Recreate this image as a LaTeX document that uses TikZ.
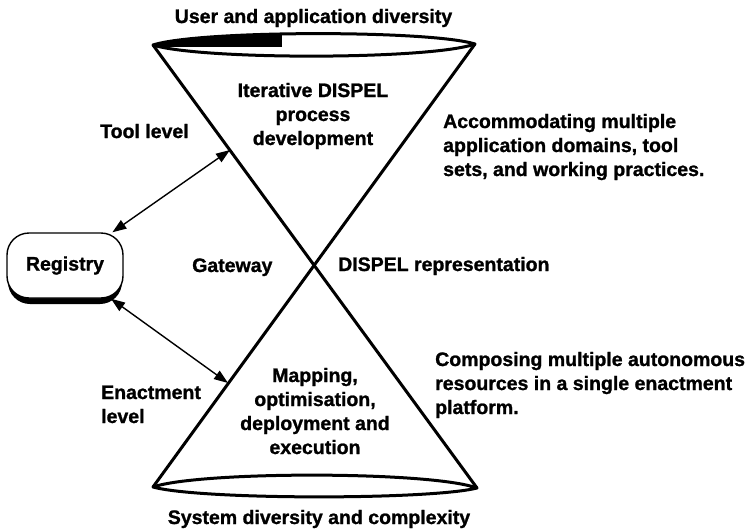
\documentclass[tikz,border=0pt]{standalone}
\usepackage{fontspec}
\setmainfont[BoldFeatures={FakeBold=1.2}]{Liberation Sans}
\usetikzlibrary{arrows.meta}
\begin{document}
\begin{tikzpicture}[x=1pt,y=-1pt,
  lbl/.style={font=\fontsize{19.5}{24}\selectfont\bfseries, inner sep=0pt, anchor=base},
  lblw/.style={lbl, anchor=base west, align=left},
  cone/.style={line width=3pt, line join=round, line cap=round},
  link/.style={line width=1.4pt,
    {Triangle[length=14pt,width=10pt]}-{Triangle[length=14pt,width=10pt]}},
  regbox/.style={draw, line width=1.4pt, rounded corners=22pt, fill=white,
    minimum width=116pt, minimum height=65pt, inner sep=0pt,
    font=\fontsize{19.5}{24}\selectfont\bfseries}]
\useasboundingbox (0,0) rectangle (755,530);

% tips of the two lens-shaped rims
\coordinate (tl) at (153,45);
\coordinate (tr) at (475,44);
\coordinate (bl) at (153,487);
\coordinate (br) at (477,488);

% shaded strip on the upper rim
\begin{scope}
  \clip (tl) .. controls (200,30) and (430,30) .. (tr) -- (475,47) -- (153,47) -- cycle;
  \fill (140,20) rectangle (282,47);
\end{scope}

% upper rim
\draw[cone] (tl) .. controls (200,30) and (430,30) .. (tr)
            .. controls (430,60) and (200,60) .. (tl) -- cycle;
% lower rim
\draw[cone] (bl) .. controls (200,471) and (430,471) .. (br)
            .. controls (430,500) and (200,500) .. (bl) -- cycle;
% crossing sides of the hourglass
\draw[cone] (tl) -- (br);
\draw[cone] (tr) -- (bl);

% registry with its shadow
\fill[rounded corners=22pt] (8,239) rectangle (122,304);
\node[regbox] (reg) at (65,265.5) {Registry};

% links between the registry and the two levels
\coordinate (a1) at (230,150);
\coordinate (a2) at (228,383);
\draw[link] (reg) -- (a1);
\draw[link] (reg) -- (a2);

% labels (multi-line nodes are placed by the baseline of their last line)
\node[lbl] (top) at (313.5,23) {User and application diversity};
\node[lbl] (bot) at (319,524) {System diversity and complexity};
\node[lbl, align=center] (iter) at (313,145) {Iterative DISPEL\\process\\development};
\node[lbl, align=center] (map) at (315,454) {Mapping,\\optimisation,\\deployment and\\execution};
\node[lblw] (tool) at (100,138) {Tool level};
\node[lblw] (enact) at (101,423) {Enactment\\level};
\node[lblw] (gate) at (192,272) {Gateway};
\node[lblw] (repr) at (338,271) {DISPEL representation};
\node[lblw] (acc) at (443,176) {Accommodating multiple\\application domains, tool\\sets, and working practices.};
\node[lblw] (comp) at (435,414) {Composing multiple autonomous\\resources in a single enactment\\platform.};
\end{tikzpicture}
\end{document}
